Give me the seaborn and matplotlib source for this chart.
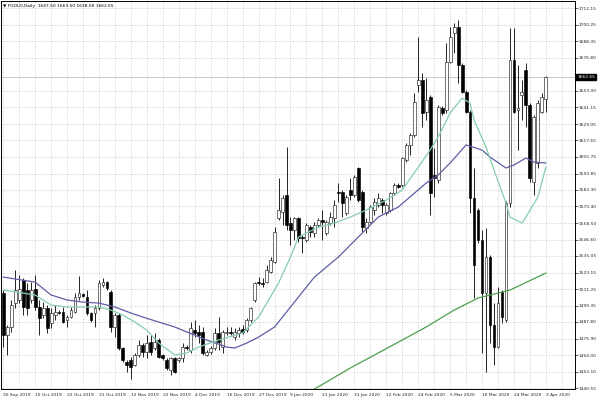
"""
Daily FGOLD candlestick chart with three moving averages, MT4 style.
Saves out.png (600x400).
"""

import numpy as np
import pandas as pd
import matplotlib
matplotlib.use("Agg")
import matplotlib.pyplot as plt
import seaborn as sns

# ── Data ─────────────────────────────────────────────────────────────────────
OPEN = [
    1508.5, 1478.5, 1484.2, 1501.3, 1503.5, 1517.8, 1510.6, 1503.5, 1511.3, 1498.5,
    1492.8, 1497.8, 1487.0, 1492.8, 1494.9, 1494.9, 1489.2, 1491.3, 1494.9, 1505.6,
    1507.8, 1505.6, 1494.2, 1494.2, 1497.8, 1514.2, 1516.3, 1509.2, 1484.2, 1492.8,
    1469.2, 1459.2, 1460.6, 1457.0, 1464.2, 1471.3, 1466.3, 1473.4, 1469.2, 1474.9,
    1464.2, 1460.6, 1453.4, 1462.0, 1460.6, 1462.0, 1469.9, 1467.7, 1482.0, 1480.6,
    1480.6, 1464.2, 1466.3, 1469.2, 1479.9, 1469.9, 1479.9, 1480.6, 1477.0, 1479.9,
    1482.7, 1482.0, 1489.2, 1503.5, 1516.3, 1515.6, 1516.3, 1523.5, 1530.6, 1562.1,
    1566.4, 1578.5, 1558.5, 1553.5, 1562.1, 1548.5, 1546.4, 1555.6, 1551.4, 1557.1,
    1560.6, 1551.4, 1558.5, 1562.1, 1580.7, 1580.7, 1565.6, 1582.1, 1578.5, 1597.8,
    1580.7, 1554.9, 1559.2, 1567.8, 1571.4, 1574.9, 1565.6, 1567.8, 1579.9, 1585.7,
    1585.7, 1603.5, 1614.3, 1621.4, 1657.1, 1660.7, 1637.8, 1648.5, 1592.8, 1589.3,
    1640.7, 1639.3, 1673.6, 1694.3, 1698.6, 1671.4, 1652.1, 1637.8, 1576.4, 1567.8,
    1546.4, 1508.5, 1534.2, 1485.6, 1469.9, 1509.2, 1489.2, 1572.8, 1675.0, 1639.3,
    1650.0, 1667.8, 1642.8, 1587.8, 1601.4, 1637.8, 1647.50,
]
HIGH = [
    1510.6, 1485.6, 1503.5, 1524.9, 1521.3, 1519.2, 1515.6, 1516.3, 1521.3, 1503.5,
    1502.0, 1499.9, 1497.8, 1499.9, 1496.3, 1498.5, 1492.8, 1498.5, 1508.5, 1520.6,
    1508.5, 1510.6, 1494.9, 1499.9, 1517.8, 1519.2, 1517.0, 1510.6, 1494.2, 1494.2,
    1469.9, 1460.6, 1462.7, 1465.6, 1474.9, 1472.7, 1478.5, 1478.5, 1479.9, 1476.3,
    1464.9, 1462.0, 1462.7, 1462.7, 1462.7, 1472.7, 1471.3, 1487.7, 1489.2, 1485.6,
    1484.2, 1467.7, 1470.6, 1483.5, 1491.3, 1482.0, 1484.2, 1484.2, 1483.5, 1484.2,
    1485.6, 1490.6, 1498.5, 1516.3, 1519.9, 1519.2, 1528.5, 1534.2, 1555.6, 1590.7,
    1578.5, 1612.8, 1562.8, 1562.8, 1562.8, 1549.9, 1558.5, 1557.1, 1559.2, 1562.1,
    1567.8, 1560.6, 1566.4, 1574.9, 1587.1, 1582.1, 1578.5, 1590.7, 1592.8, 1598.5,
    1582.1, 1562.1, 1571.4, 1576.4, 1579.9, 1576.4, 1572.8, 1580.7, 1587.1, 1587.1,
    1605.7, 1615.7, 1622.8, 1651.4, 1691.4, 1665.7, 1662.1, 1650.0, 1612.1, 1642.8,
    1642.1, 1687.1, 1698.6, 1701.4, 1703.6, 1672.8, 1653.5, 1639.3, 1597.8, 1569.2,
    1553.5, 1554.9, 1535.6, 1501.3, 1512.8, 1510.6, 1574.2, 1697.9, 1697.9, 1671.4,
    1660.7, 1672.8, 1644.3, 1635.7, 1646.4, 1651.4, 1663.50,
]
LOW = [
    1469.9, 1464.2, 1480.6, 1497.8, 1501.3, 1492.8, 1492.8, 1501.3, 1496.3, 1478.5,
    1490.6, 1479.9, 1483.5, 1489.2, 1493.5, 1487.0, 1484.2, 1490.6, 1494.2, 1503.5,
    1505.6, 1492.8, 1487.7, 1484.2, 1496.3, 1512.8, 1510.6, 1480.6, 1477.0, 1467.7,
    1459.2, 1452.0, 1447.0, 1456.3, 1462.7, 1462.7, 1462.0, 1464.2, 1467.7, 1462.0,
    1460.6, 1453.4, 1449.9, 1451.3, 1459.2, 1459.2, 1467.7, 1465.6, 1477.0, 1472.7,
    1464.2, 1463.5, 1464.9, 1467.7, 1467.7, 1465.6, 1478.5, 1478.5, 1474.9, 1477.0,
    1479.2, 1480.6, 1487.7, 1502.0, 1514.2, 1512.8, 1515.6, 1522.8, 1529.9, 1560.6,
    1557.1, 1553.5, 1542.8, 1546.4, 1544.9, 1537.1, 1544.9, 1548.5, 1548.5, 1555.6,
    1546.4, 1549.9, 1557.1, 1555.6, 1573.5, 1562.8, 1564.2, 1574.9, 1577.1, 1573.5,
    1552.1, 1551.4, 1558.5, 1564.2, 1569.9, 1565.6, 1564.2, 1566.4, 1578.5, 1583.5,
    1584.2, 1602.1, 1607.1, 1620.0, 1652.1, 1627.1, 1632.1, 1564.2, 1577.1, 1587.1,
    1635.7, 1637.1, 1672.8, 1680.0, 1658.5, 1651.4, 1637.1, 1565.6, 1504.9, 1544.2,
    1465.6, 1452.0, 1472.7, 1457.0, 1469.2, 1487.0, 1487.7, 1569.9, 1637.1, 1610.7,
    1632.1, 1627.1, 1587.8, 1578.5, 1597.8, 1637.1, 1638.00,
]
CLOSE = [
    1478.5, 1484.2, 1499.9, 1510.6, 1511.3, 1498.5, 1497.8, 1510.6, 1498.5, 1490.6,
    1497.8, 1483.5, 1494.2, 1494.9, 1494.2, 1487.7, 1491.3, 1496.3, 1505.6, 1508.5,
    1506.3, 1494.2, 1489.2, 1497.8, 1515.6, 1516.3, 1512.0, 1484.2, 1492.8, 1469.2,
    1460.6, 1457.0, 1455.6, 1464.2, 1471.3, 1466.3, 1472.7, 1466.3, 1473.4, 1462.7,
    1462.0, 1454.9, 1462.0, 1452.0, 1462.0, 1469.9, 1469.2, 1483.5, 1479.9, 1478.5,
    1465.6, 1466.3, 1469.2, 1479.9, 1473.4, 1480.6, 1480.6, 1479.9, 1480.6, 1482.0,
    1480.6, 1489.2, 1497.8, 1515.6, 1515.6, 1514.9, 1524.9, 1532.1, 1552.1, 1567.8,
    1576.4, 1557.1, 1553.5, 1562.1, 1547.8, 1547.8, 1557.1, 1552.1, 1557.1, 1560.6,
    1559.2, 1559.2, 1562.8, 1571.4, 1579.9, 1572.8, 1577.1, 1578.5, 1591.4, 1574.9,
    1555.6, 1559.2, 1569.9, 1573.5, 1576.4, 1571.4, 1571.4, 1579.9, 1585.7, 1584.2,
    1605.0, 1614.3, 1621.4, 1645.0, 1660.7, 1637.1, 1646.4, 1579.9, 1590.7, 1641.4,
    1637.1, 1673.6, 1691.4, 1698.6, 1671.4, 1652.1, 1637.8, 1576.4, 1528.5, 1546.4,
    1508.5, 1534.2, 1485.6, 1469.9, 1501.3, 1491.3, 1572.8, 1675.0, 1637.8, 1640.7,
    1652.1, 1642.8, 1590.7, 1634.3, 1644.3, 1648.5, 1662.65,
]

DATE_LABELS = [
    "30 Sep 2019", "10 Oct 2019", "22 Oct 2019", "31 Oct 2019", "12 Nov 2019",
    "22 Nov 2019", "4 Dec 2019", "16 Dec 2019", "27 Dec 2019", "9 Jan 2020",
    "21 Jan 2020", "31 Jan 2020", "12 Feb 2020", "24 Feb 2020", "5 Mar 2020",
    "16 Mar 2020", "24 Mar 2020", "3 Apr 2020",
]

# moving averages, sampled at bar numbers
MA_FAST_BAR = [0, 8, 12, 16, 24, 27, 30, 33, 36, 39, 43, 46, 49, 54, 60, 64, 69, 72,
               74, 79, 83, 87, 91, 96, 100, 103, 107, 109, 112, 115, 117, 118, 121,
               123, 126, 127, 130, 131, 134, 136]
MA_FAST = [1510.6, 1507.1, 1499.9, 1498.5, 1498.5, 1496.3, 1492.8, 1487.7, 1482.0,
           1472.7, 1464.2, 1465.6, 1469.9, 1474.9, 1479.9, 1491.3, 1515.6, 1534.2,
           1548.5, 1555.6, 1558.5, 1562.8, 1567.8, 1574.9, 1582.1, 1594.3, 1610.7,
           1620.0, 1637.1, 1647.8, 1644.3, 1632.1, 1612.8, 1596.4, 1572.8, 1562.8,
           1558.5, 1562.8, 1577.1, 1598.5]

MA_MID_BAR = [0, 8, 12, 16, 20, 24, 28, 32, 35, 43, 51, 56, 58, 61, 64, 68, 72, 78,
              84, 89, 94, 99, 106, 109, 112, 116, 120, 122, 126, 128, 131, 133, 136]
MA_MID = [1519.9, 1516.3, 1507.1, 1503.5, 1502.0, 1501.3, 1498.5, 1494.2, 1491.3,
          1484.2, 1474.9, 1469.9, 1469.2, 1472.7, 1477.0, 1484.2, 1498.5, 1519.9,
          1534.2, 1548.5, 1562.8, 1569.9, 1587.1, 1592.8, 1601.4, 1614.3, 1610.7,
          1605.7, 1597.8, 1600.0, 1605.0, 1602.1, 1601.4]

MA_SLOW_BAR = [75, 87, 100, 106, 113, 119, 127, 136]
MA_SLOW = [1434.9, 1454.9, 1474.9, 1484.2, 1496.3, 1504.9, 1510.6, 1522.8]

Y_TICKS = [1712.15, 1700.25, 1688.35, 1676.80, 1653.00, 1641.15, 1629.05, 1617.65,
           1605.75, 1593.85, 1582.30, 1570.40, 1558.50, 1546.60, 1535.05, 1523.15,
           1511.25, 1499.35, 1487.80, 1475.90, 1464.00, 1452.10, 1440.55]
LAST_PRICE = 1662.65
TITLE = "\u25bc FGOLD,Daily  1647.50 1663.50 1638.00 1662.65"

# ── Style ────────────────────────────────────────────────────────────────────
sns.set_style("white")
plt.rcParams["font.family"] = ["DejaVu Sans"]
FS = 3.2
COLORS = {"fast": "#86cdb0", "mid": "#5e5ea6", "slow": "#4f9f4f"}


def main():
    df = pd.DataFrame({"open": OPEN, "high": HIGH, "low": LOW, "close": CLOSE})
    df["bar"] = np.arange(len(df))
    up = df["close"] >= df["open"]
    bottom = df[["open", "close"]].min(axis=1)
    height = (df["close"] - df["open"]).abs().clip(lower=0.5)

    fig = plt.figure(figsize=(6, 4), dpi=100)
    ax = fig.add_axes([0.002, 0.0275, 0.956, 0.97])

    # grid
    ax.set_xticks(np.arange(0, len(df), 8))
    ax.set_xticks(np.arange(4, len(df) + 8, 8), minor=True)
    ax.set_yticks(Y_TICKS)
    ax.grid(True, which="both", axis="x", color="#c9c9c9", lw=0.5, ls=(0, (2, 2)))
    ax.grid(True, which="major", axis="y", color="#c9c9c9", lw=0.5, ls=(0, (2, 2)))
    ax.set_axisbelow(True)

    # candles
    ax.vlines(df["bar"], df["low"], df["high"], color="black", lw=0.6, zorder=2)
    ax.bar(df["bar"][up], height[up], bottom=bottom[up], width=0.72,
           color="white", edgecolor="#222222", lw=0.45, zorder=3)
    ax.bar(df["bar"][~up], height[~up], bottom=bottom[~up], width=0.72,
           color="black", edgecolor="black", lw=0.45, zorder=3)

    # moving averages
    sns.lineplot(x=MA_SLOW_BAR, y=MA_SLOW, ax=ax, color=COLORS["slow"], lw=0.9, zorder=4)
    sns.lineplot(x=MA_MID_BAR, y=MA_MID, ax=ax, color=COLORS["mid"], lw=0.9, zorder=4)
    sns.lineplot(x=MA_FAST_BAR, y=MA_FAST, ax=ax, color=COLORS["fast"], lw=0.9, zorder=4)

    # bid line + price box
    ax.axhline(LAST_PRICE, color="#b0b0b0", lw=0.5, zorder=1)
    ax.text(1.004, LAST_PRICE, f"{LAST_PRICE:.2f}", transform=ax.get_yaxis_transform(),
            ha="left", va="center", fontsize=FS, color="white",
            bbox=dict(boxstyle="square,pad=0.25", fc="black", ec="black"))

    ax.set_xlim(-0.5, 143.25)
    ax.set_ylim(1439.9, 1717.2)

    ax.yaxis.tick_right()
    ax.set_yticklabels([f"{v:.2f}" for v in Y_TICKS])
    ax.set_xticklabels(DATE_LABELS)
    for lbl in ax.get_xticklabels():
        lbl.set_ha("left")
    ax.tick_params(axis="x", which="major", length=2, width=0.5, pad=0.8, labelsize=FS)
    ax.tick_params(axis="x", which="minor", length=0)
    ax.tick_params(axis="y", length=2, width=0.5, pad=1, labelsize=FS)

    for sp in ax.spines.values():
        sp.set_color("black")
        sp.set_linewidth(0.7)
        sp.set_visible(True)

    ax.text(0.004, 0.993, TITLE, transform=ax.transAxes, ha="left", va="top",
            fontsize=FS, color="black")
    ax.set_xlabel("")
    ax.set_ylabel("")

    fig.savefig("out.png", dpi=100)
    plt.close(fig)


if __name__ == "__main__":
    main()
